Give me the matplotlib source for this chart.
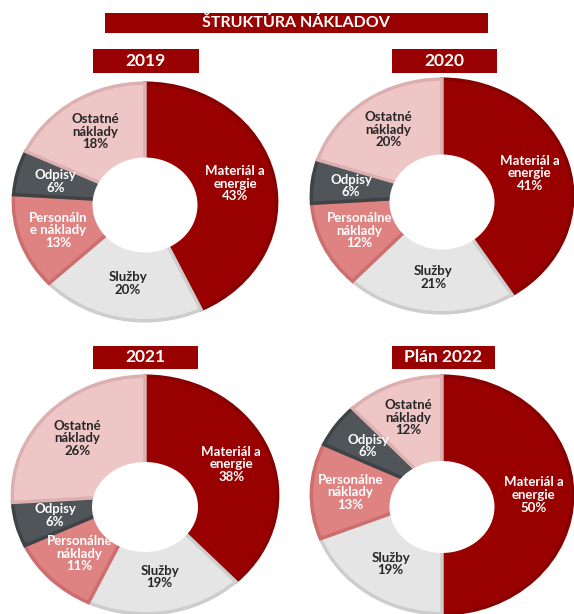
import matplotlib
matplotlib.use("Agg")
import matplotlib.pyplot as plt
from matplotlib.patches import Rectangle, Ellipse

plt.rcParams["font.family"] = ["Lato", "DejaVu Sans"]

W, H = 574, 614

title = "ŠTRUKTÚRA NÁKLADOV"
years = ["2019", "2020", "2021", "Plán 2022"]
categories = ["Materiál a\nenergie", "Služby", "Personálne\nnáklady", "Odpisy", "Ostatné\nnáklady"]
values = {
    "2019": [43, 20, 13, 6, 18],
    "2020": [41, 21, 12, 6, 20],
    "2021": [38, 19, 11, 6, 26],
    "Plán 2022": [50, 19, 13, 6, 12],
}
# 2019 chart wraps the label differently
label_override = {"2019": {2: "Personáln\ne náklady"}}

fills = ["#990000", "#E5E5E5", "#DF8282", "#505559", "#EFC6C6"]
edges = ["#870000", "#CDCDCD", "#CC6E6E", "#3E4346", "#DCB0B0"]
txtcol = ["white", "#262626", "white", "white", "#262626"]

# layout in pixels: donut centre, radii, hole centre, title bar box
donut_c = [(145, 202), (442, 196), (145, 495), (442, 495)]
donut_r = [(133, 120), (132, 118), (134, 120), (132, 120)]
hole_c = [(145, 205), (442, 202), (145, 507), (442, 507)]
hole_r = [(52.5, 47.5), (52.5, 47.5), (53, 45), (52.5, 46)]
bars = [(93, 49, 106, 24), (392, 49, 105, 24), (93, 346, 105, 23), (392, 346, 103, 23)]


def fx(x):
    return x / W


def fy(y):
    return 1 - y / H


fig = plt.figure(figsize=(W / 100, H / 100), dpi=100)

for i, yr in enumerate(years):
    cx, cy = donut_c[i]
    rx, ry = donut_r[i]
    ax = fig.add_axes([fx(cx - rx), fy(cy + ry), 2 * rx / W, 2 * ry / H])
    labels = [f"{c}\n{v}%" for c, v in zip(categories, values[yr])]
    for k, s in label_override.get(yr, {}).items():
        labels[k] = f"{s}\n{values[yr][k]}%"
    wedges, texts = ax.pie(values[yr], colors=fills, startangle=90, counterclock=False,
                           radius=0.99, labels=labels, labeldistance=0.7,
                           wedgeprops=dict(linewidth=2.5),
                           textprops=dict(fontsize=9.5, fontweight="bold", ha="center",
                                          va="center", linespacing=1.05))
    for w, e in zip(wedges, edges):
        w.set_edgecolor(e)
    for t, c in zip(texts, txtcol):
        t.set_color(c)
        t.set_zorder(5)
    hx, hy = hole_c[i]
    hrx, hry = hole_r[i]
    ax.add_patch(Ellipse(((hx - cx) / rx, -(hy - cy) / ry), 2 * hrx / rx, 2 * hry / ry,
                         facecolor="white", edgecolor="none", zorder=3))
    ax.set_xlim(-1, 1)
    ax.set_ylim(-1, 1)
    ax.set_aspect("auto")
    ax.axis("off")

    bx, by, bw, bh = bars[i]
    fig.add_artist(Rectangle((fx(bx), fy(by + bh)), bw / W, bh / H, transform=fig.transFigure,
                             facecolor="#990000", edgecolor="none", zorder=10))
    fig.text(fx(bx + bw / 2), fy(by + bh / 2), yr, color="white", fontsize=12.5,
             fontweight="bold", ha="center", va="center", zorder=11)

fig.add_artist(Rectangle((fx(105), fy(33)), (488 - 105) / W, 20 / H, transform=fig.transFigure,
                         facecolor="#990000", edgecolor="none", zorder=10))
fig.text(fx(296), fy(23), title, color="white", fontsize=11.5, fontweight="bold",
         ha="center", va="center", zorder=11)

fig.savefig("out.png", dpi=100)
